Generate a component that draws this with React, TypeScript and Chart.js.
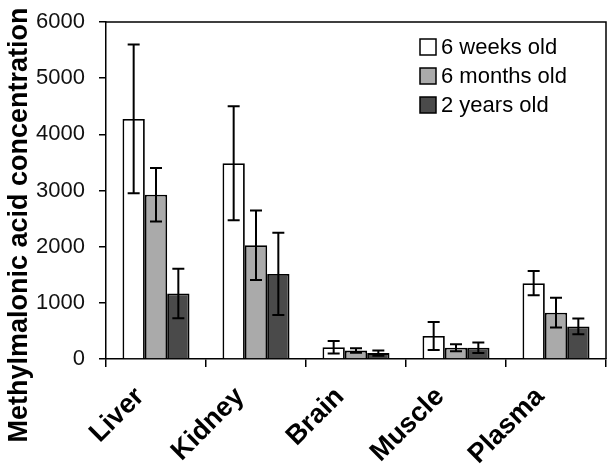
import React, { useEffect, useRef } from "react";
import { Chart, registerables } from "chart.js";

Chart.register(...registerables);

const categories = ["Liver", "Kidney", "Brain", "Muscle", "Plasma"];
const seriesNames = ["6 weeks old", "6 months old", "2 years old"];
const weeks6 = [4275, 3485, 210, 410, 1350];
const months6 = [2925, 2025, 150, 200, 825];
const years2 = [1165, 1515, 105, 200, 580];
const weeks6Err = [1325, 1015, 110, 250, 217];
const months6Err = [475, 617, 40, 62, 264];
const years2Err = [440, 733, 47, 95, 140];
const yTicks = [0, 1000, 2000, 3000, 4000, 5000, 6000];
const yTitle = "Methylmalonic acid concentration";

const FONT = "'Liberation Sans', Arial, sans-serif";

const errorBarPlugin = {
  id: "errorBars",
  afterDatasetsDraw(chart: any) {
    const ctx = chart.ctx;
    const y = chart.scales.y;
    ctx.save();
    ctx.strokeStyle = "#000";
    ctx.lineWidth = 2;
    chart.data.datasets.forEach((ds: any, i: number) => {
      const meta = chart.getDatasetMeta(i);
      meta.data.forEach((el: any, j: number) => {
        const v = ds.data[j];
        const e = ds.errors[j];
        const top = y.getPixelForValue(v + e);
        const bot = y.getPixelForValue(v - e);
        const cap = 6;
        ctx.beginPath();
        ctx.moveTo(el.x, top);
        ctx.lineTo(el.x, bot);
        ctx.moveTo(el.x - cap, top);
        ctx.lineTo(el.x + cap, top);
        ctx.moveTo(el.x - cap, bot);
        ctx.lineTo(el.x + cap, bot);
        ctx.stroke();
      });
    });
    ctx.restore();
  },
  afterDraw(chart: any) {
    const ctx = chart.ctx;
    const a = chart.chartArea;
    ctx.save();
    ctx.strokeStyle = "#000";
    ctx.lineWidth = 1.5;
    ctx.beginPath();
    ctx.moveTo(a.left, a.top);
    ctx.lineTo(a.right, a.top);
    ctx.lineTo(a.right, a.bottom);
    ctx.stroke();
    ctx.fillStyle = "#000";
    ctx.font = `bold 27px ${FONT}`;
    ctx.textAlign = "center";
    ctx.textBaseline = "alphabetic";
    ctx.translate(27, 225);
    ctx.rotate(-Math.PI / 2);
    ctx.fillText(yTitle, 0, 0);
    ctx.restore();
    ctx.save();
    const lx = a.right - 186;
    const ly = a.top + 25;
    ctx.font = `22px ${FONT}`;
    ctx.textAlign = "left";
    ctx.textBaseline = "middle";
    chart.data.datasets.forEach((ds: any, i: number) => {
      const cy = ly + i * 29;
      ctx.fillStyle = ds.backgroundColor;
      ctx.fillRect(lx, cy - 8, 16, 16);
      ctx.strokeStyle = "#000";
      ctx.lineWidth = 1.5;
      ctx.strokeRect(lx, cy - 8, 16, 16);
      ctx.fillStyle = "#000";
      ctx.fillText(ds.label, lx + 21, cy + 1);
    });
    ctx.restore();
  },
};

export default function App() {
  const ref = useRef<HTMLCanvasElement>(null);
  useEffect(() => {
    if (!ref.current) return;
    const mk = (label: string, data: number[], errors: number[], color: string) => ({
      label,
      data,
      errors,
      backgroundColor: color,
      borderColor: "#000",
      borderWidth: 1.8,
      barPercentage: 1,
      categoryPercentage: 0.67,
    });
    const chart = new Chart(ref.current, {
      type: "bar",
      data: {
        labels: categories,
        datasets: [
          mk(seriesNames[0], weeks6, weeks6Err, "#ffffff"),
          mk(seriesNames[1], months6, months6Err, "#aaaaaa"),
          mk(seriesNames[2], years2, years2Err, "#4a4a4a"),
        ] as any,
      },
      options: {
        responsive: false,
        animation: false,
        devicePixelRatio: 1,
        layout: { padding: { left: 0, right: 5, top: 22, bottom: 0 } },
        plugins: { legend: { display: false }, tooltip: { enabled: false } },
        scales: {
          x: {
            afterFit: (s: any) => {
              s.height = 111;
            },
            grid: {
              offset: true,
              drawOnChartArea: false,
              drawTicks: true,
              tickLength: 8,
              color: "#000",
              lineWidth: 1.5,
            },
            border: { color: "#000", width: 1.5 },
            ticks: {
              color: "#000",
              font: { family: FONT, size: 27, weight: "bold" },
              maxRotation: 45,
              minRotation: 45,
              padding: 14,
              labelOffset: -16,
            },
          },
          y: {
            min: 0,
            max: 6000,
            afterFit: (s: any) => {
              s.width = 106;
            },
            afterBuildTicks: (s: any) => {
              s.ticks = yTicks.map((v) => ({ value: v }));
            },
            grid: {
              drawOnChartArea: false,
              drawTicks: true,
              tickLength: 7,
              color: "#000",
              lineWidth: 1.5,
            },
            border: { color: "#000", width: 1.5 },
            ticks: {
              color: "#111",
              font: { family: FONT, size: 22, lineHeight: 0.6 },
              padding: 14,
              callback: (v: any) => String(v),
            },
          },
        },
      },
      plugins: [errorBarPlugin],
    });
    return () => chart.destroy();
  }, []);
  return (
    <div style={{ position: "absolute", left: 0, top: 0, width: 611, height: 470, background: "#fff" }}>
      <canvas ref={ref} width={611} height={470} />
    </div>
  );
}
